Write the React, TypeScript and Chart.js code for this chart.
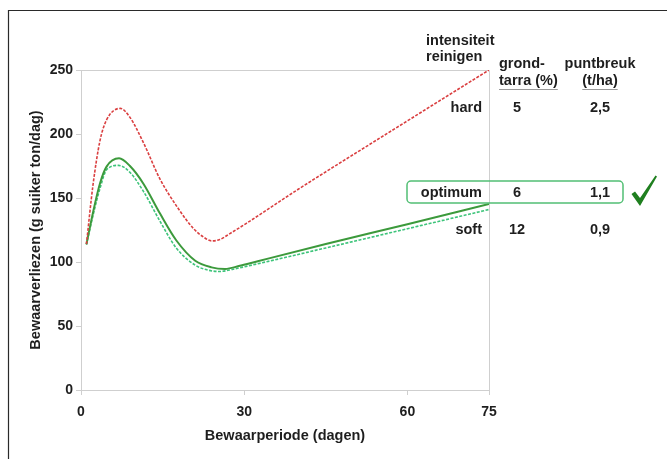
import React, { useEffect, useRef } from "react";
import { Chart, registerables } from "chart.js";

Chart.register(...registerables);

// ---- data ----
const hardDays = [1, 2.2, 3.5, 4.7, 7.2, 9, 11.5, 14.5, 18, 20.7, 22.5, 24, 25.5, 27.3, 30.4, 40, 55, 75];
const hardLoss = [114, 160, 195, 211, 220, 213, 193, 165, 141, 126, 119.5, 116.5, 117.5, 122, 130.2, 157, 197, 250];

const optimumDays = [1, 2.3, 3.5, 4.7, 7, 9, 11.5, 14.5, 17.5, 21, 24, 26.5, 29, 32.5, 45, 60, 75];
const optimumLoss = [114, 140.5, 161.5, 174.5, 181, 175, 161, 138, 117, 101, 95.8, 94.6, 96.8, 100.6, 114, 129.5, 145.3];

const softDays = [1, 2.3, 3.5, 4.7, 6.9, 9, 11.5, 14.5, 17.5, 21, 23.5, 25.5, 28, 32.5, 45, 60, 75];
const softLoss = [113.5, 138, 157.6, 172, 175.5, 170, 155, 132, 111, 97.5, 93.5, 92.6, 94.4, 98.6, 111, 126, 141];

const xTickValues = [0, 30, 60, 75];
const yTickValues = [0, 50, 100, 150, 200, 250];

const tableHeader = ["intensiteit", "reinigen"];
const colTarraHeader = ["grond-", "tarra (%)"];
const colBreukHeader = ["puntbreuk", "(t/ha)"];
const rowLabels = ["hard", "optimum", "soft"];
const rowTarra = ["5", "6", "12"];
const rowBreuk = ["2,5", "1,1", "0,9"];

const xTitle = "Bewaarperiode (dagen)";
const yTitle = "Bewaarverliezen (g suiker ton/dag)";

const FONT = "'Liberation Sans', Arial, sans-serif";
const TEXT = "#1e1e1e";

const toXY = (xs: number[], ys: number[]) => xs.map((x, i) => ({ x, y: ys[i] }));

const decorPlugin = {
  id: "decor",
  beforeDraw(chart: any) {
    const { ctx, chartArea } = chart;
    ctx.save();
    ctx.fillStyle = "#ffffff";
    ctx.fillRect(0, 0, chart.width, chart.height);
    // outer frame (top + left)
    ctx.strokeStyle = "#2a2a2a";
    ctx.lineWidth = 1.2;
    ctx.beginPath();
    ctx.moveTo(8.5, chart.height);
    ctx.lineTo(8.5, 10.5);
    ctx.lineTo(chart.width, 10.5);
    ctx.stroke();
    // plot box (top + right)
    ctx.strokeStyle = "#cfcfcf";
    ctx.lineWidth = 1;
    ctx.beginPath();
    ctx.moveTo(chartArea.left, chartArea.top + 0.5);
    ctx.lineTo(chartArea.right + 0.5, chartArea.top + 0.5);
    ctx.lineTo(chartArea.right + 0.5, chartArea.bottom);
    ctx.stroke();
    ctx.restore();
  },
  afterDraw(chart: any) {
    const { ctx } = chart;
    ctx.save();
    ctx.font = `bold 14.5px ${FONT}`;
    ctx.fillStyle = TEXT;
    ctx.textBaseline = "middle";
    // header
    ctx.textAlign = "left";
    ctx.fillText(tableHeader[0], 426, 41);
    ctx.fillText(tableHeader[1], 426, 57);
    ctx.fillText(colTarraHeader[0], 499, 64);
    ctx.fillText(colTarraHeader[1], 499, 81);
    ctx.textAlign = "center";
    ctx.fillText(colBreukHeader[0], 600, 64);
    ctx.fillText(colBreukHeader[1], 600, 81);
    // underlines
    ctx.strokeStyle = "#9a9a9a";
    ctx.lineWidth = 1;
    const w1 = ctx.measureText(colTarraHeader[1]).width;
    const w2 = ctx.measureText(colBreukHeader[1]).width;
    ctx.beginPath();
    ctx.moveTo(499, 89.5);
    ctx.lineTo(499 + w1, 89.5);
    ctx.moveTo(600 - w2 / 2, 89.5);
    ctx.lineTo(600 + w2 / 2, 89.5);
    ctx.stroke();
    // rows
    const rowY = [108, 193, 230];
    rowLabels.forEach((lab, i) => {
      ctx.textAlign = "right";
      ctx.fillText(lab, 482, rowY[i]);
      ctx.textAlign = "center";
      ctx.fillText(rowTarra[i], 517, rowY[i]);
      ctx.fillText(rowBreuk[i], 600, rowY[i]);
    });
    // optimum box
    ctx.strokeStyle = "#52bf74";
    ctx.lineWidth = 1.5;
    ctx.beginPath();
    (ctx as any).roundRect(407, 181, 216, 22, 4);
    ctx.stroke();
    // check mark
    ctx.fillStyle = "#1f7f1f";
    ctx.beginPath();
    ctx.moveTo(631.5, 194);
    ctx.lineTo(635, 191.5);
    ctx.lineTo(640, 198);
    ctx.lineTo(655.5, 175.5);
    ctx.lineTo(657, 176.5);
    ctx.lineTo(640, 206);
    ctx.closePath();
    ctx.fill();
    ctx.restore();
  },
};

export default function App() {
  const ref = useRef<HTMLCanvasElement | null>(null);
  useEffect(() => {
    if (!ref.current) return;
    const common = { pointRadius: 0, cubicInterpolationMode: "monotone", fill: false };
    const chart = new Chart(ref.current, {
      type: "line",
      data: {
        datasets: [
          {
            label: "hard",
            data: toXY(hardDays, hardLoss),
            borderColor: "#da3f40",
            borderWidth: 1.6,
            borderDash: [3, 1.5],
            ...common,
          },
          {
            label: "optimum",
            data: toXY(optimumDays, optimumLoss),
            borderColor: "#3c9a3c",
            borderWidth: 2,
            ...common,
          },
          {
            label: "soft",
            data: toXY(softDays, softLoss),
            borderColor: "#3dc47a",
            borderWidth: 1.6,
            borderDash: [3, 1.5],
            ...common,
          },
        ],
      },
      options: {
        animation: false,
        responsive: false,
        devicePixelRatio: 1,
        layout: { padding: { left: 0, right: 178, top: 70, bottom: 0 } },
        plugins: { legend: { display: false }, tooltip: { enabled: false } },
        scales: {
          x: {
            type: "linear",
            min: 0,
            max: 75,
            afterBuildTicks: (s: any) => {
              s.ticks = xTickValues.map((v) => ({ value: v }));
            },
            afterFit: (s: any) => {
              s.height = 69;
            },
            grid: { drawOnChartArea: false, color: "#cfcfcf", tickLength: 5 },
            border: { color: "#cfcfcf" },
            ticks: { color: TEXT, font: { family: FONT, size: 14, weight: "bold" }, padding: 9 },
            title: {
              display: true,
              text: xTitle,
              color: TEXT,
              font: { family: FONT, size: 14.5, weight: "bold" },
              padding: { top: 0, bottom: 14 },
            },
          },
          y: {
            min: 0,
            max: 250,
            afterBuildTicks: (s: any) => {
              s.ticks = yTickValues.map((v) => ({ value: v }));
            },
            afterFit: (s: any) => {
              s.width = 81;
            },
            grid: { drawOnChartArea: false, color: "#cfcfcf", tickLength: 5 },
            border: { color: "#cfcfcf" },
            ticks: { color: TEXT, font: { family: FONT, size: 14, weight: "bold" }, padding: 3 },
            title: {
              display: true,
              text: yTitle,
              color: TEXT,
              font: { family: FONT, size: 14.5, weight: "bold" },
              padding: { top: 27, bottom: 0 },
            },
          },
        },
      },
      plugins: [decorPlugin],
    } as any);
    return () => chart.destroy();
  }, []);
  return (
    <div style={{ position: "fixed", left: 0, top: 0, width: 667, height: 459 }}>
      <canvas ref={ref} width={667} height={459} style={{ display: "block" }} />
    </div>
  );
}
